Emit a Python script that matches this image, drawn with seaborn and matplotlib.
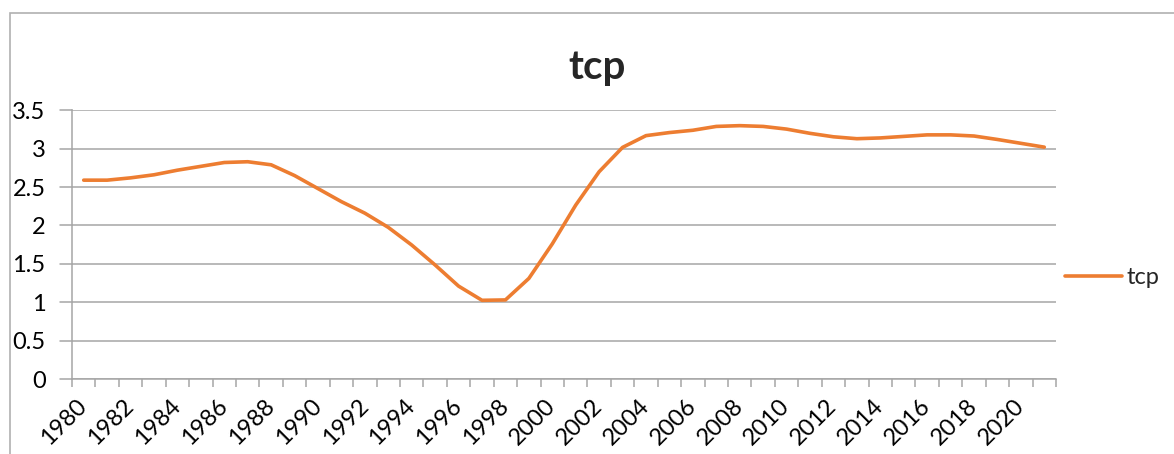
import matplotlib
matplotlib.use("Agg")
import matplotlib.pyplot as plt
from matplotlib.patches import Rectangle
from matplotlib.ticker import FixedLocator
import seaborn as sns
import pandas as pd

sns.set_theme(style="white")
plt.rcParams["font.family"] = ["Lato", "DejaVu Sans"]

# -------------------------------------------------------------
# data
# -------------------------------------------------------------
years = list(range(1980, 2022))
tcp = [2.59, 2.59, 2.62, 2.66, 2.72, 2.77, 2.82, 2.83, 2.79, 2.65,
       2.48, 2.31, 2.16, 1.975, 1.745, 1.485, 1.21, 1.025, 1.03, 1.31,
       1.76, 2.265, 2.70, 3.017, 3.17, 3.21, 3.24, 3.29, 3.30, 3.29,
       3.255, 3.20, 3.155, 3.13, 3.14, 3.16, 3.18, 3.18, 3.165, 3.12,
       3.07, 3.02]
y_ticks = [0, 0.5, 1, 1.5, 2, 2.5, 3, 3.5]
y_tick_labels = ["0", "0.5", "1", "1.5", "2", "2.5", "3", "3.5"]
x_label_years = list(range(1980, 2021, 2))

df = pd.DataFrame({"year": years, "tcp": tcp})

W, H = 1174, 454
fig = plt.figure(figsize=(W / 100, H / 100), dpi=100)
ax = fig.add_axes([72 / W, 1 - 379 / H, (1056 - 72) / W, (379 - 110.3) / H])

grid_c = "#a6a6a6"
line_c = "#ED7D31"
tick_fs = 17

sns.lineplot(data=df, x="year", y="tcp", ax=ax, color=line_c,
             linewidth=2.6, label="tcp")

ax.set_xlim(years[0] - 0.5, years[-1] + 0.5)
ax.set_ylim(0, 3.5)
ax.set_xlabel("")
ax.set_ylabel("")

# y axis
ax.set_yticks(y_ticks)
ax.set_yticklabels(y_tick_labels, fontsize=tick_fs)
ax.yaxis.grid(True, color=grid_c, linewidth=1.1)
ax.tick_params(axis="y", length=0, pad=19, colors="black")
for y in y_ticks:
    ax.plot([-0.012, 0], [y, y], transform=ax.get_yaxis_transform(),
            color=grid_c, linewidth=1.1, clip_on=False)

# x axis: labels under every other category, ticks on category boundaries
ax.set_xticks(x_label_years)
ax.set_xticklabels([str(y) for y in x_label_years], fontsize=tick_fs,
                   rotation=45, ha="right", va="center",
                   rotation_mode="anchor")
ax.xaxis.set_minor_locator(FixedLocator([y - 0.5 for y in years] + [years[-1] + 0.5]))
ax.tick_params(axis="x", which="major", length=0, pad=17, colors="black")
ax.tick_params(axis="x", which="minor", bottom=True, length=6,
               width=1.1, color=grid_c, direction="out")

for side in ["top", "right"]:
    ax.spines[side].set_visible(False)
for side in ["left", "bottom"]:
    ax.spines[side].set_color(grid_c)
    ax.spines[side].set_linewidth(1.1)

fig.text(597 / W, 1 - 68 / H, "tcp", fontsize=29, fontweight="bold",
         ha="center", va="center")

ax.legend(loc="center left", bbox_to_anchor=(1065 / W, 1 - 278 / H),
          bbox_transform=fig.transFigure, frameon=False, fontsize=tick_fs,
          handlelength=2.4, handletextpad=0.2, borderpad=0, borderaxespad=0)

# outer chart border
fig.patches.append(Rectangle((9.5 / W, -0.1), 1.2, 1 - 13 / H + 0.1,
                             transform=fig.transFigure, fill=False,
                             edgecolor="#b0b0b0", linewidth=1.2))

fig.savefig("out.png", dpi=100)
